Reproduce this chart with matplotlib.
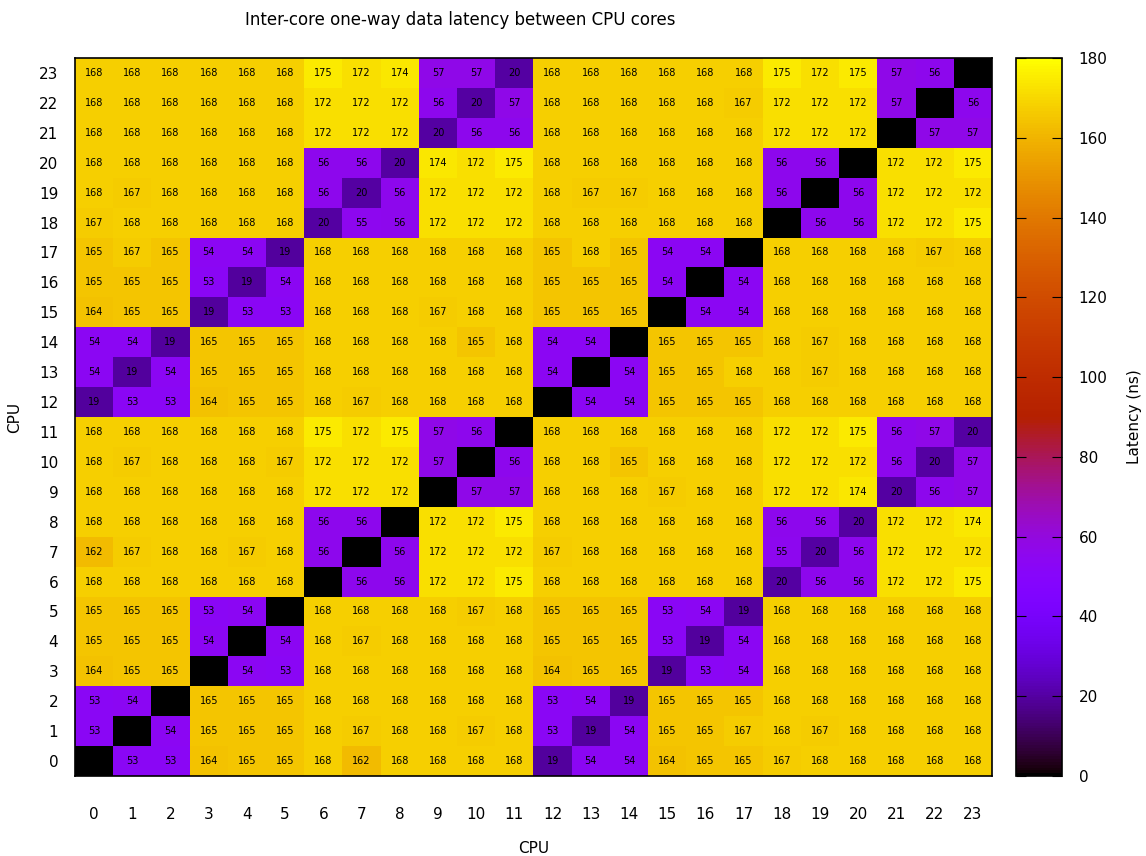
import numpy as np
import matplotlib
matplotlib.use("Agg")
import matplotlib.pyplot as plt

# latency in ns, rows = CPU on y axis (0..23), columns = CPU on x axis (0..23)
# None = same core (drawn black, no label)
X = None
rows = {
    23: [168, 168, 168, 168, 168, 168, 175, 172, 174, 57, 57, 20, 168, 168, 168, 168, 168, 168, 175, 172, 175, 57, 56, X],
    22: [168, 168, 168, 168, 168, 168, 172, 172, 172, 56, 20, 57, 168, 168, 168, 168, 168, 167, 172, 172, 172, 57, X, 56],
    21: [168, 168, 168, 168, 168, 168, 172, 172, 172, 20, 56, 56, 168, 168, 168, 168, 168, 168, 172, 172, 172, X, 57, 57],
    20: [168, 168, 168, 168, 168, 168, 56, 56, 20, 174, 172, 175, 168, 168, 168, 168, 168, 168, 56, 56, X, 172, 172, 175],
    19: [168, 167, 168, 168, 168, 168, 56, 20, 56, 172, 172, 172, 168, 167, 167, 168, 168, 168, 56, X, 56, 172, 172, 172],
    18: [167, 168, 168, 168, 168, 168, 20, 55, 56, 172, 172, 172, 168, 168, 168, 168, 168, 168, X, 56, 56, 172, 172, 175],
    17: [165, 167, 165, 54, 54, 19, 168, 168, 168, 168, 168, 168, 165, 168, 165, 54, 54, X, 168, 168, 168, 168, 167, 168],
    16: [165, 165, 165, 53, 19, 54, 168, 168, 168, 168, 168, 168, 165, 165, 165, 54, X, 54, 168, 168, 168, 168, 168, 168],
    15: [164, 165, 165, 19, 53, 53, 168, 168, 168, 167, 168, 168, 165, 165, 165, X, 54, 54, 168, 168, 168, 168, 168, 168],
    14: [54, 54, 19, 165, 165, 165, 168, 168, 168, 168, 165, 168, 54, 54, X, 165, 165, 165, 168, 167, 168, 168, 168, 168],
    13: [54, 19, 54, 165, 165, 165, 168, 168, 168, 168, 168, 168, 54, X, 54, 165, 165, 168, 168, 167, 168, 168, 168, 168],
    12: [19, 53, 53, 164, 165, 165, 168, 167, 168, 168, 168, 168, X, 54, 54, 165, 165, 165, 168, 168, 168, 168, 168, 168],
    11: [168, 168, 168, 168, 168, 168, 175, 172, 175, 57, 56, X, 168, 168, 168, 168, 168, 168, 172, 172, 175, 56, 57, 20],
    10: [168, 167, 168, 168, 168, 167, 172, 172, 172, 57, X, 56, 168, 168, 165, 168, 168, 168, 172, 172, 172, 56, 20, 57],
    9:  [168, 168, 168, 168, 168, 168, 172, 172, 172, X, 57, 57, 168, 168, 168, 167, 168, 168, 172, 172, 174, 20, 56, 57],
    8:  [168, 168, 168, 168, 168, 168, 56, 56, X, 172, 172, 175, 168, 168, 168, 168, 168, 168, 56, 56, 20, 172, 172, 174],
    7:  [162, 167, 168, 168, 167, 168, 56, X, 56, 172, 172, 172, 167, 168, 168, 168, 168, 168, 55, 20, 56, 172, 172, 172],
    6:  [168, 168, 168, 168, 168, 168, X, 56, 56, 172, 172, 175, 168, 168, 168, 168, 168, 168, 20, 56, 56, 172, 172, 175],
    5:  [165, 165, 165, 53, 54, X, 168, 168, 168, 168, 167, 168, 165, 165, 165, 53, 54, 19, 168, 168, 168, 168, 168, 168],
    4:  [165, 165, 165, 54, X, 54, 168, 167, 168, 168, 168, 168, 165, 165, 165, 53, 19, 54, 168, 168, 168, 168, 168, 168],
    3:  [164, 165, 165, X, 54, 53, 168, 168, 168, 168, 168, 168, 164, 165, 165, 19, 53, 54, 168, 168, 168, 168, 168, 168],
    2:  [53, 54, X, 165, 165, 165, 168, 168, 168, 168, 168, 168, 53, 54, 19, 165, 165, 165, 168, 168, 168, 168, 168, 168],
    1:  [53, X, 54, 165, 165, 165, 168, 167, 168, 168, 167, 168, 53, 19, 54, 165, 165, 167, 168, 167, 168, 168, 168, 168],
    0:  [X, 53, 53, 164, 165, 165, 168, 162, 168, 168, 168, 168, 19, 54, 54, 164, 165, 165, 167, 168, 168, 168, 168, 168],
}
cpus = list(range(24))
cb_ticks = [0, 20, 40, 60, 80, 100, 120, 140, 160, 180]

data = np.array([[np.nan if v is None else v for v in rows[r]] for r in cpus], dtype=float)

fig = plt.figure(figsize=(11.46, 8.56), dpi=100)
ax = fig.add_axes([75 / 1146, 80 / 856, 917 / 1146, 718 / 856])
cax = fig.add_axes([1016 / 1146, 80 / 856, 46 / 1146, 718 / 856])

cmap = plt.get_cmap("gnuplot").copy()
cmap.set_bad("black")
im = ax.imshow(np.ma.masked_invalid(data), cmap=cmap, vmin=0, vmax=180,
               origin="lower", aspect="auto", interpolation="nearest",
               extent=(-0.5, 23.5, -0.5, 23.5))

for r in cpus:
    for c in cpus:
        v = data[r, c]
        if not np.isnan(v):
            ax.text(c, r, f"{int(v)}", ha="center", va="center", fontsize=7, color="black")

ax.set_xticks(cpus)
ax.set_yticks(cpus)
ax.tick_params(length=0, labelsize=11)
ax.tick_params(axis="x", pad=22)
ax.tick_params(axis="y", pad=12)
for s in ax.spines.values():
    s.set_linewidth(1.2)
ax.set_xlabel("CPU", fontsize=11, labelpad=14)
ax.set_ylabel("CPU", fontsize=11, labelpad=12)

cb = fig.colorbar(im, cax=cax, ticks=cb_ticks)
cb.ax.tick_params(direction="in", left=True, right=True, length=7, labelsize=11, pad=12)
cb.outline.set_linewidth(1.2)
cb.set_label("Latency (ns)", fontsize=11, labelpad=14)

fig.text(460 / 1146, 1 - 20 / 856, "Inter-core one-way data latency between CPU cores",
         ha="center", va="center", fontsize=12)

fig.savefig("out.png", dpi=100)
